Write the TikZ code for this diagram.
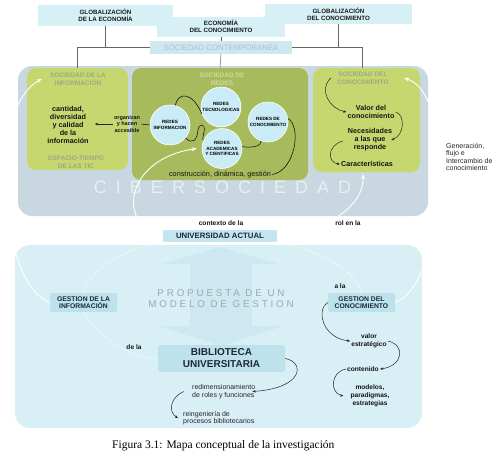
\documentclass[tikz,border=0pt]{standalone}
\usepackage{fontspec}
\setmainfont{Liberation Serif}
\setsansfont{Liberation Sans}
\newfontfamily\cibfont[LetterSpace=50]{Liberation Sans}
\newfontfamily\propfont[LetterSpace=29]{Liberation Sans}
\usetikzlibrary{arrows.meta}
\definecolor{skyfill}{HTML}{D7F0F5}
\definecolor{contfill}{HTML}{CFE8F0}
\definecolor{contgrey}{HTML}{A8C2CC}
\definecolor{cibfill}{HTML}{C9D8E0}
\definecolor{cibtext}{HTML}{E3F1F5}
\definecolor{lgreen}{HTML}{C7D76F}
\definecolor{dgreen}{HTML}{A7BB5C}
\definecolor{greenlabel}{HTML}{9DAA84}
\definecolor{redlabel}{HTML}{CFD9A2}
\definecolor{circfill}{HTML}{C9ECF6}
\definecolor{lowfill}{HTML}{D8EFF6}
\definecolor{arrowfill}{HTML}{CDE8F1}
\definecolor{univfill}{HTML}{C2E5EF}
\definecolor{gestfill}{HTML}{BEE2EC}
\definecolor{propgrey}{HTML}{9DA8AD}
\definecolor{navy}{HTML}{1C2838}

\begin{document}
\begin{tikzpicture}[x=1pt, y=1pt, yscale=-1,
  skybox/.style={fill=skyfill, inner sep=0pt, align=center, text=black!90, font=\sffamily\bfseries\fontsize{6.2}{7}\selectfont},
  greenlab/.style={text=greenlabel, align=center, font=\sffamily\bfseries\fontsize{6.5}{8}\selectfont},
  redcircle/.style={circle, fill=circfill, draw=white, line width=0.6pt, minimum size=40pt, inner sep=0pt, align=center, font=\sffamily\bfseries\fontsize{4.6}{5.3}\selectfont},
  bodytext/.style={align=center, inner sep=1pt, text=black!92, font=\sffamily\bfseries\fontsize{7.2}{8}\selectfont},
  smalltext/.style={align=center, inner sep=1pt, text=black!92, font=\sffamily\bfseries\fontsize{6.6}{8}\selectfont},
  plaintext/.style={align=left, inner sep=0pt, text=black!85, font=\sffamily\fontsize{7}{7.4}\selectfont},
  gestbox/.style={fill=gestfill, rounded corners=2pt, align=center, inner sep=0pt, text=navy, font=\sffamily\bfseries\fontsize{6.8}{7.5}\selectfont},
  greenbox/.style={rounded corners=9pt, inner sep=0pt},
  blkarrow/.style={-{Stealth[length=3.2pt, width=2.6pt]}, line width=0.5pt, black!85},
  whitearc/.style={white, line width=0.9pt, -{Stealth[length=5pt, width=4pt]}},
  faintarc/.style={white, opacity=0.6, line width=0.6pt},
  topline/.style={draw=black!60, line width=0.5pt}]
\useasboundingbox (0,0) rectangle (492,451);
\clip (0,0) rectangle (492,451);
\fill[white] (0,0) rectangle (492,451);

\node[skybox, minimum width=135, minimum height=21] (globecon) at (105.5,15.5) {GLOBALIZACIÓN\\DE LA ECONOMÍA};
\node[skybox, minimum width=147, minimum height=20] (globcon) at (338.5,14) {GLOBALIZACIÓN\\DEL CONOCIMIENTO};
\node[skybox, minimum width=128, minimum height=20] (econ) at (221,26.5) {ECONOMÍA\\DEL CONOCIMIENTO};
\node[fill=contfill, minimum width=142, minimum height=13, inner sep=0pt, text=contgrey, font=\sffamily\fontsize{7.8}{8}\selectfont] (contemp) at (221,47.5) {SOCIEDAD CONTEMPORANEA};

\fill[cibfill, rounded corners=14pt] (18,66) rectangle (428,216);
\node[greenbox, fill=lgreen, minimum width=101, minimum height=102] (sinfo) at (77.5,119) {};
\node[greenbox, fill=dgreen, minimum width=176, minimum height=112] (sredes) at (220,124) {};
\node[greenbox, fill=lgreen, minimum width=107, minimum height=104] (sconoc) at (366.5,120) {};
\node[text=cibtext, inner sep=0pt, font=\cibfont\fontsize{18}{18}\selectfont] (ciber) at (222.5,187.5) {CIBERSOCIEDAD};

\draw[topline] (globecon.south) -- (globecon.south |- contemp.west);
\draw[topline] (contemp.west) -| (sinfo.north);
\draw[topline] (econ.south) -- (contemp.north);
\draw[topline] (contemp.south) -- (sredes.north);
\draw[topline] (globcon.south) -- (globcon.south |- contemp.east);
\draw[topline] (contemp.east) -| ([xshift=-4.5pt]sconoc.north);

\fill[lowfill, rounded corners=15pt] (15,245) rectangle (422,428);
\fill[arrowfill] (220,247) -- (278,264) -- (252,264) -- (252,326) -- (283,326) -- (221,346) -- (159,326) -- (190,326) -- (190,264) -- (162,264) -- cycle;

\node[greenlab] (silab) at (78,79) {SOCIEDAD DE LA\\INFORMACIÓN};
\node[bodytext] (cantidad) at (68,125) {cantidad,\\diversidad\\y calidad\\de la\\información};
\node[greenlab] (espacio) at (76,162) {ESPACIO-TIEMPO\\DE LAS TIC};
\node[bodytext, font=\sffamily\bfseries\fontsize{5.5}{6.5}\selectfont] (organizan) at (127,124) {organizan\\y hacen\\accesible};
\node[greenlab, text=redlabel] (redlab) at (222,79) {SOCIEDAD DE\\REDES};
\node[greenlab] (sclab) at (363,78) {SOCIEDAD DEL\\CONOCIMIENTO};
\node[bodytext] (valor) at (371,112) {Valor del\\conocimiento};
\node[bodytext] (necesidades) at (370,140) {Necesidades\\a las que\\responde};
\node[bodytext] (caract) at (367,164) {Características};
\node[anchor=north west, plaintext] (genlab) at (446,143) {Generación,\\flujo e\\Intercambio de\\conocimiento};

\node[smalltext] (contexto) at (221,223) {contexto de la};
\node[fill=univfill, minimum width=114, minimum height=12, inner sep=0pt, text=navy, font=\sffamily\bfseries\fontsize{7.8}{8}\selectfont] (univ) at (220,236) {UNIVERSIDAD ACTUAL};
\node[smalltext] (rol) at (348,223) {rol en la};

\node[text=propgrey, align=center, font=\propfont\fontsize{9.8}{11}\selectfont] (propuesta) at (221,299) {PROPUESTA DE UN\\MODELO DE GESTION};
\node[gestbox, minimum width=67, minimum height=19] (ginfo) at (83.5,302.5) {GESTION DE LA\\INFORMACIÓN};
\node[gestbox, minimum width=67, minimum height=19] (gcon) at (361.5,302.5) {GESTION DEL\\CONOCIMIENTO};
\node[gestbox, minimum width=127, minimum height=27, rounded corners=3pt, font=\sffamily\bfseries\fontsize{10}{12}\selectfont] (biblio) at (221.5,358.5) {BIBLIOTECA\\UNIVERSITARIA};
\node[smalltext] (dela) at (134,347) {de la};
\node[smalltext] (ala) at (340,286) {a la};
\node[smalltext] (valorest) at (369,341) {valor\\estratégico};
\node[smalltext] (contenido) at (363,369) {contenido};
\node[smalltext] (modelos) at (370,396) {modelos,\\paradigmas,\\estrategias};
\node[anchor=west, plaintext] (redim) at (192,391.5) {redimensionamiento\\de roles y funciones};
\node[anchor=west, plaintext] (reing) at (183,418) {reingeniería de\\procesos bibliotecarios};

\node[redcircle] (rinfo) at (170,125) {REDES\\INFORMACION};
\node[redcircle] (rtec) at (221,107) {REDES\\TECNOLOGICAS};
\node[redcircle] (rcon) at (268,122) {REDES DE\\CONOCIMIENTO};
\node[redcircle] (racad) at (222,148.5) {REDES\\ACADEMICAS\\Y CIENTIFICAS};
\node[bodytext, font=\sffamily\fontsize{7.3}{8}\selectfont] (cdg) at (220,174.5) {construcción, dinámica, gestión};

\draw[whitearc] (ginfo.west) .. controls (0,285) and (-15,110) .. ([xshift=-5pt]silab.west);
\draw[whitearc] (gcon.east) .. controls (445,285) and (458,95) .. ([xshift=12pt]sclab.east);
\draw[whitearc] (univ.west) .. controls (118,228) and (122,160) .. ([xshift=-5pt]racad.west);
\draw[whitearc] (univ.east) .. controls (330,230) and (364,205) .. ([xshift=-3.5pt,yshift=2pt]sconoc.south);
\draw[faintarc] (univ.south west) .. controls (120,250) and (90,270) .. (ginfo.north);
\draw[faintarc] (univ.south east) .. controls (320,250) and (355,270) .. (gcon.north);
\draw[faintarc] (ginfo.south) .. controls (95,335) and (130,358) .. (biblio.west);

\draw[line width=0.5pt] (rinfo.75) .. controls (178,92) and (192,91) .. (rtec.200);
\draw[line width=0.5pt] (rinfo.-40) .. controls (193,145) and (197,140) .. (198,130) .. controls (199,123) and (206,123) .. (204,132) .. controls (203,137) and (202,140) .. (racad.155);
\draw[line width=0.5pt] (racad.5) .. controls (254,148) and (261,146) .. (rcon.-110);
\draw[line width=0.5pt] (rcon.10) .. controls (302,127) and (295,171) .. (cdg.east);
\draw[line width=0.5pt] (organizan.east) -- (rinfo.west);
\draw[blkarrow] (organizan.west) -- ([xshift=5pt]cantidad.east |- organizan.west);

\draw[blkarrow] ([xshift=-3pt]sclab.west) .. controls (318,90) and (330,109) .. (valor.west);
\draw[blkarrow] (valor.east) .. controls (405,114) and (405,135) .. ([xshift=-2pt]necesidades.east);
\draw[blkarrow] ([xshift=-4pt,yshift=1pt]necesidades.west) .. controls (326,146) and (328,163) .. (caract.west);

\draw[blkarrow] (gcon.west) .. controls (316,309) and (322,338) .. (valorest.west);
\draw[blkarrow] (valorest.east) .. controls (406,345) and (403,366) .. (contenido.east);
\draw[blkarrow] (contenido.west) .. controls (330,372) and (330,393) .. ([xshift=-6pt]modelos.west);
\draw[blkarrow] (biblio.east) .. controls (305,362) and (304,388) .. ([xshift=-3pt]redim.east);
\draw[blkarrow] ([xshift=-8pt]redim.west) .. controls (170,397) and (168,412) .. ([xshift=-5pt]reing.west);

\node[anchor=base west, inner sep=0pt, font=\fontsize{11.5}{13}\selectfont] (caption) at (112,448.5) {Figura 3.1: Mapa conceptual de la investigación};
\end{tikzpicture}
\end{document}
